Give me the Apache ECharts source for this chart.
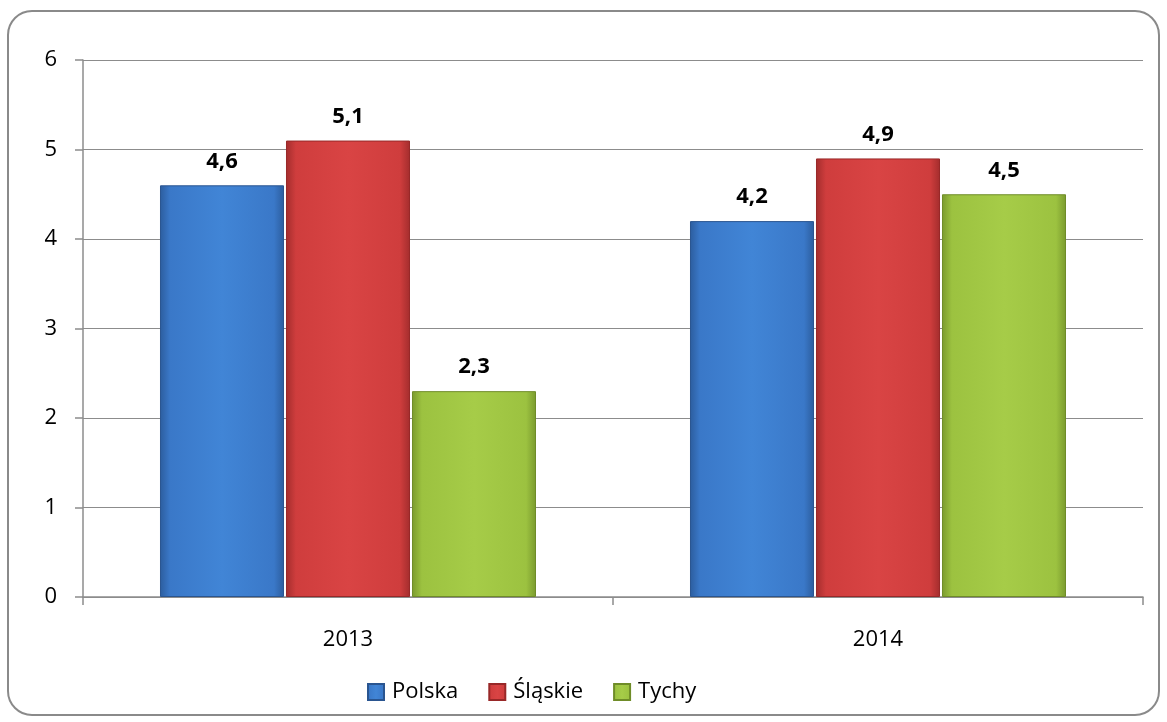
<!DOCTYPE html>
<html>
<head>
<meta charset="utf-8">
<script src="https://cdn.jsdelivr.net/npm/echarts@6/dist/echarts.min.js"></script>
<style>
  html, body { margin: 0; padding: 0; background: #fff; }
  #chart { width: 1167px; height: 722px; }
</style>
</head>
<body>
<div id="chart"></div>
<script>
// Years on the category axis
const years = ['2013', '2014'];
// Values per region
const polska = [4.6, 4.2];
const slaskie = [5.1, 4.9];
const tychy = [2.3, 4.5];
const seriesNames = ['Polska', 'Śląskie', 'Tychy'];

const FONT = '"Open Sans", "Noto Sans", sans-serif';

// Horizontal gradient giving the bars a bevelled look
function bevel(light, mid, dark) {
  return new echarts.graphic.LinearGradient(0, 0, 1, 0, [
    { offset: 0, color: dark },
    { offset: 0.08, color: mid },
    { offset: 0.5, color: light },
    { offset: 0.92, color: mid },
    { offset: 1, color: dark }
  ]);
}

const palette = [
  { light: '#4185d6', mid: '#3a78c8', dark: '#2c5d9e', border: '#2a5590' },
  { light: '#d94444', mid: '#cf3d3d', dark: '#a32d2d', border: '#982828' },
  { light: '#a6cc48', mid: '#9cc240', dark: '#7a9a2e', border: '#6f8c28' }
];

const fmt = v => String(v).replace('.', ',');

function makeSeries(name, data, p) {
  return {
    name: name,
    type: 'bar',
    data: data,
    barWidth: '23.4%',
    barGap: '1.6%',
    itemStyle: {
      color: bevel(p.light, p.mid, p.dark),
      borderColor: p.border,
      borderWidth: 1
    },
    label: {
      show: true,
      position: 'top',
      distance: 13,
      formatter: params => fmt(params.value),
      fontFamily: FONT,
      fontWeight: 'bold',
      fontSize: 22,
      color: '#000'
    }
  };
}

const chart = echarts.init(document.getElementById('chart'), null, { renderer: 'canvas' });
chart.setOption({
  animation: false,
  backgroundColor: '#fff',
  graphic: [{
    type: 'rect',
    shape: { x: 8, y: 11, width: 1151, height: 704, r: 24 },
    style: { fill: 'none', stroke: '#8a8a8a', lineWidth: 2 },
    z: -1
  }],
  grid: { left: 83, right: 24, top: 60, bottom: 125 },
  legend: {
    data: seriesNames.map((n, i) => ({
      name: n,
      itemStyle: { color: bevel(palette[i].light, palette[i].mid, palette[i].dark) }
    })),
    top: 676,
    left: 362,
    icon: 'rect',
    itemWidth: 16,
    itemHeight: 16,
    itemGap: 30,
    textStyle: { fontFamily: FONT, fontSize: 22, color: '#000', padding: [0, 0, 0, 3] }
  },
  xAxis: {
    type: 'category',
    data: years,
    axisLine: { lineStyle: { color: '#8c8c8c', width: 1.5 } },
    axisTick: { show: true, length: 8, lineStyle: { color: '#8c8c8c', width: 1.5 } },
    axisLabel: { margin: 32, fontFamily: FONT, fontSize: 22, color: '#000' }
  },
  yAxis: {
    type: 'value',
    min: 0,
    max: 6,
    interval: 1,
    axisLine: { show: true, lineStyle: { color: '#8c8c8c', width: 1.5 } },
    axisTick: { show: true, length: 8, lineStyle: { color: '#8c8c8c', width: 1.5 } },
    splitLine: { lineStyle: { color: '#8c8c8c', width: 1 } },
    axisLabel: { margin: 26, fontFamily: FONT, fontSize: 22, color: '#000' }
  },
  series: [
    makeSeries(seriesNames[0], polska, palette[0]),
    makeSeries(seriesNames[1], slaskie, palette[1]),
    makeSeries(seriesNames[2], tychy, palette[2])
  ]
});
</script>
</body>
</html>
